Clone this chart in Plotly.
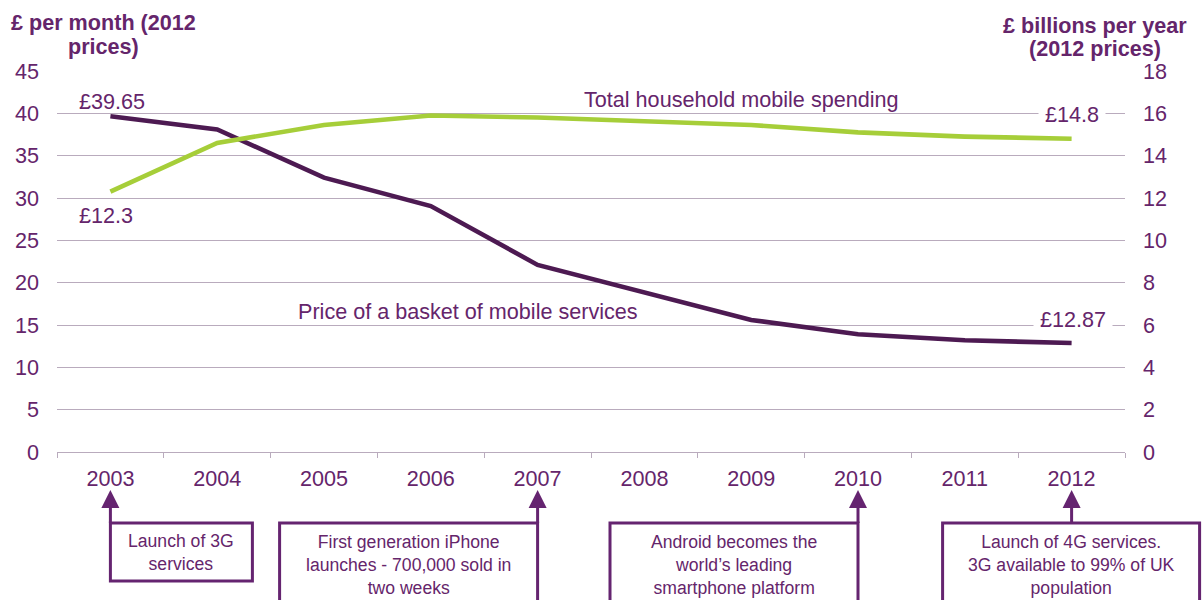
import plotly.graph_objects as go

# ---- data -------------------------------------------------------------
years = ["2003", "2004", "2005", "2006", "2007", "2008", "2009", "2010", "2011", "2012"]

# Price of a basket of mobile services, £ per month (2012 prices) - left axis
basket_price = [39.65, 38.1, 32.4, 29.05, 22.1, 18.8, 15.6, 13.9, 13.2, 12.87]

# Total household mobile spending, £ billions per year (2012 prices) - right axis
household_spend = [12.3, 14.6, 15.45, 15.9, 15.8, 15.6, 15.45, 15.1, 14.9, 14.8]

left_ticks = [0, 5, 10, 15, 20, 25, 30, 35, 40, 45]
right_ticks = [0, 2, 4, 6, 8, 10, 12, 14, 16, 18]

event_years = ["2003", "2007", "2010", "2012"]
event_texts = [
    "Launch of 3G<br>services",
    "First generation iPhone<br>launches - 700,000 sold in<br>two weeks",
    "Android becomes the<br>world\u2019s leading<br>smartphone platform",
    "Launch of 4G services.<br>3G available to 99% of UK<br>population",
]

# ---- styling ----------------------------------------------------------
FONT = "Liberation Sans, Arial, sans-serif"
TEXT = "#65256b"
PURPLE = "#4d1a52"
GREEN = "#a6ce39"
GRID = "#b9abbd"
BOX = "#652470"
FS = 21.6

W, H = 1202, 600
M = dict(l=57, r=77, t=71, b=148)
PLOT_W = W - M["l"] - M["r"]
PLOT_H = H - M["t"] - M["b"]

# callout boxes: pixel offsets of the box edges from the arrow's category centre
box_geom = [
    dict(left=0, right=142, bottom=129),
    dict(left=-258, right=0, bottom=155),
    dict(left=-248, right=0, bottom=155),
    dict(left=-129, right=128, bottom=155),
]
BOX_TOP = 71      # px below the x axis line
ARROW_BASE = 56
ARROW_TIP = 38
HEAD_HALF = 9


def px_x(cat, px_off=0.0):
    """paper x of a category centre, shifted by a pixel offset."""
    return (years.index(cat) + 0.5) / len(years) + px_off / PLOT_W


def py(px_below):
    """paper y for a distance in pixels below the x axis line."""
    return -px_below / PLOT_H


fig = go.Figure()

fig.add_trace(go.Scatter(
    x=years, y=basket_price, mode="lines", yaxis="y",
    line=dict(color=PURPLE, width=4.6), hoverinfo="skip", showlegend=False,
))
fig.add_trace(go.Scatter(
    x=years, y=household_spend, mode="lines", yaxis="y2",
    line=dict(color=GREEN, width=4.6), hoverinfo="skip", showlegend=False,
))

shapes = []
annotations = []

# event callouts below the axis
for yr, txt, g in zip(event_years, event_texts, box_geom):
    shapes.append(dict(
        type="rect", xref="paper", yref="paper",
        x0=px_x(yr, g["left"]), x1=px_x(yr, g["right"]),
        y0=py(BOX_TOP), y1=py(g["bottom"]),
        line=dict(color=BOX, width=3), fillcolor="rgba(0,0,0,0)", layer="above",
    ))
    shapes.append(dict(
        type="line", xref="paper", yref="paper",
        x0=px_x(yr), x1=px_x(yr), y0=py(BOX_TOP), y1=py(ARROW_BASE),
        line=dict(color=BOX, width=3), layer="above",
    ))
    shapes.append(dict(
        type="path", xref="paper", yref="paper",
        path=(f"M {px_x(yr, -HEAD_HALF)},{py(ARROW_BASE)} "
              f"L {px_x(yr, HEAD_HALF)},{py(ARROW_BASE)} "
              f"L {px_x(yr)},{py(ARROW_TIP)} Z"),
        line=dict(color=BOX, width=0), fillcolor=BOX, layer="above",
    ))
    annotations.append(dict(
        x=px_x(yr, (g["left"] + g["right"]) / 2), xref="paper",
        y=py((BOX_TOP + g["bottom"]) / 2), yref="paper",
        text=txt, showarrow=False, xanchor="center", yanchor="middle",
        align="center", font=dict(family=FONT, size=17.6, color=TEXT),
    ))


# value labels at the ends of each line
def money(v):
    return f"\u00a3{v:g}"


annotations += [
    dict(x=0, xref="x", y=basket_price[0], yref="y", text=money(basket_price[0]),
         xanchor="left", xshift=-33, yshift=15, showarrow=False,
         font=dict(family=FONT, size=FS, color=TEXT)),
    dict(x=0, xref="x", y=household_spend[0], yref="y2", text=money(household_spend[0]),
         xanchor="left", xshift=-33, yshift=-24, showarrow=False,
         font=dict(family=FONT, size=FS, color=TEXT)),
    dict(x=len(years) - 1, xref="x", y=household_spend[-1], yref="y2",
         text=money(household_spend[-1]),
         xanchor="center", xshift=0, yshift=24, showarrow=False, bgcolor="white", borderpad=6,
         font=dict(family=FONT, size=FS, color=TEXT)),
    dict(x=len(years) - 1, xref="x", y=basket_price[-1], yref="y",
         text=money(basket_price[-1]),
         xanchor="center", xshift=1, yshift=24, showarrow=False, bgcolor="white", borderpad=6,
         font=dict(family=FONT, size=FS, color=TEXT)),
]

# series names
annotations += [
    dict(x=0.6407, y=0.9252, xref="paper", yref="paper", text="Total household mobile spending",
         showarrow=False, xanchor="center", yanchor="middle",
         font=dict(family=FONT, size=FS, color=TEXT)),
    dict(x=0.3846, y=0.3682, xref="paper", yref="paper", text="Price of a basket of mobile services",
         showarrow=False, xanchor="center", yanchor="middle",
         font=dict(family=FONT, size=FS, color=TEXT)),
]

# axis titles
title_font = dict(family=FONT, size=FS, color=TEXT)
for txt, x, y in [
    ("<b>\u00a3 per month (2012</b>", 0.0435, 1.127),
    ("<b>prices)</b>", 0.0435, 1.064),
    ("<b>\u00a3 billions per year</b>", 0.9719, 1.119),
    ("<b>(2012 prices)</b>", 0.9719, 1.060),
]:
    annotations.append(dict(x=x, y=y, xref="paper", yref="paper", text=txt, showarrow=False,
                            xanchor="center", yanchor="middle", font=title_font))

fig.update_layout(
    width=W, height=H,
    margin=dict(**M, autoexpand=False),
    paper_bgcolor="white", plot_bgcolor="white",
    showlegend=False,
    font=dict(family=FONT, size=FS, color=TEXT),
    xaxis=dict(
        type="category", categoryorder="array", categoryarray=years,
        range=[-0.5, len(years) - 0.5], showgrid=False, zeroline=False,
        showline=True, linecolor=GRID, linewidth=1.3,
        ticks="outside", tickson="boundaries", ticklen=5, tickcolor=GRID, tickwidth=1.3,
        tickfont=dict(family=FONT, size=FS, color=TEXT), ticklabelstandoff=7,
        fixedrange=True, automargin=False,
    ),
    yaxis=dict(
        range=[0, 45], tickvals=left_ticks, showgrid=True, gridcolor=GRID, gridwidth=1.3,
        zeroline=False, showline=False, ticks="",
        tickfont=dict(family=FONT, size=FS, color=TEXT), ticklabelstandoff=17,
        fixedrange=True, automargin=False,
    ),
    yaxis2=dict(
        range=[0, 18], tickvals=right_ticks, overlaying="y", side="right",
        showgrid=False, zeroline=False, showline=False, ticks="",
        tickfont=dict(family=FONT, size=FS, color=TEXT), ticklabelstandoff=17,
        fixedrange=True, automargin=False,
    ),
    shapes=shapes,
    annotations=annotations,
)

fig.write_html("out.html")
